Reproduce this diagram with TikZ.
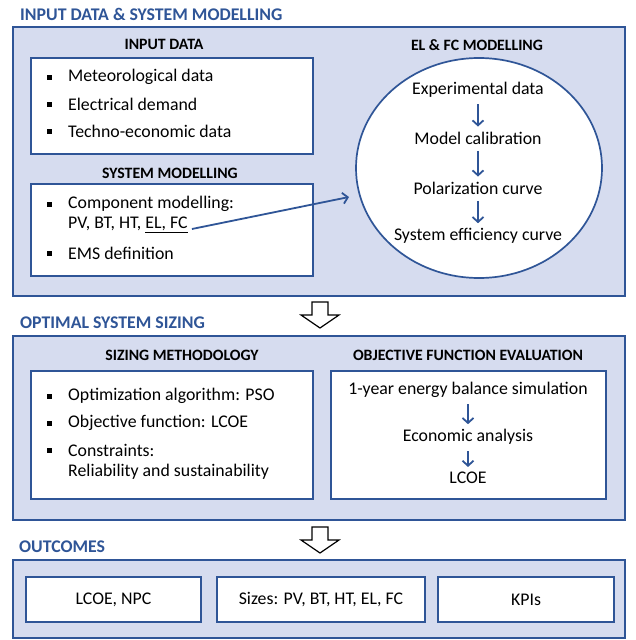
\documentclass[tikz,border=0pt]{standalone}
\usepackage{fontspec}
\setmainfont{Carlito}
\usetikzlibrary{arrows.meta,shapes.geometric}
\definecolor{bblue}{HTML}{2F5597}
\definecolor{bfill}{HTML}{D6DCEF}
\begin{document}
\begin{tikzpicture}[x=1pt,y=-1pt,
  outer/.style={draw=bblue, line width=1.7pt, fill=bfill, anchor=north west, inner sep=0pt},
  inner/.style={draw=bblue, line width=1.7pt, fill=white, anchor=north west, inner sep=0pt},
  sectitle/.style={text=bblue, font=\fontsize{17.8}{20}\selectfont\bfseries, anchor=west, inner sep=0pt},
  head/.style={font=\fontsize{15.8}{18}\selectfont\bfseries, inner sep=0pt},
  txt/.style={font=\fontsize{17.8}{20}\selectfont, inner sep=2pt},
  btxt/.style={txt, anchor=west, inner sep=0pt},
  flow/.style={draw=bblue, line width=1.8pt, -{Straight Barb[length=5pt,width=11pt]}},
  vflow/.style={flow, shorten <=4.5pt, shorten >=3pt},
  hollow/.style={draw=black, line width=1.2pt, fill=white, line join=miter}
]
\useasboundingbox (0,0) rectangle (635,640);
\def\bul#1{\fill (46.5,#1-2.5) rectangle (51.5,#1+2.5);}

% ---------- Section 1 ----------
\node[sectitle] (t1) at (20,14) {INPUT DATA \& SYSTEM MODELLING};
\node[outer, minimum width=612pt, minimum height=269pt] (box1) at (12,26) {};
\node[head] (h11) at (164,44) {INPUT DATA};
\node[inner, minimum width=282pt, minimum height=96pt] (inbox) at (30,57) {};
\bul{77}\node[btxt] (i1) at (68,77) {Meteorological data};
\bul{104}\node[btxt] (i2) at (68,104) {Electrical demand};
\bul{131}\node[btxt] (i3) at (68,131) {Techno-economic data};
\node[head] (h12) at (170,173) {SYSTEM MODELLING};
\node[inner, minimum width=282pt, minimum height=92pt] (sysbox) at (30,183) {};
\bul{204}\node[btxt] (s1) at (68,204) {Component modelling:};
\node[btxt] (s2) at (68,225) {PV, BT, HT, \underline{EL, FC}};
\bul{253}\node[btxt] (s3) at (68,253) {EMS definition};
\node[head] (h13) at (477,45) {EL \& FC MODELLING};
\node[draw=bblue, line width=1.7pt, fill=white, ellipse, minimum width=246pt, minimum height=220pt, inner sep=0pt] (ell) at (479,168) {};
\coordinate (ellin) at (349,197);
\draw[flow] ([shift={(4,4)}]s2.east) -- (ellin);
\node[txt] (e1) at (478,90) {Experimental data};
\node[txt] (e2) at (478,138) {Model calibration};
\node[txt] (e3) at (478,188) {Polarization curve};
\node[txt] (e4) at (478,236) {System efficiency curve};
\draw[vflow] (e1.south) -- (e2.north);
\draw[vflow] (e2.south) -- (e3.north);
\draw[vflow] (e3.south) -- (e4.north);

% ---------- hollow arrow 1 ----------
\draw[hollow] (312,302) -- (328,302) -- (328,315) -- (339,315) -- (320,328) -- (301,315) -- (312,315) -- cycle;

% ---------- Section 2 ----------
\node[sectitle] (t2) at (20,323) {OPTIMAL SYSTEM SIZING};
\node[outer, minimum width=612pt, minimum height=184pt] (box2) at (12,335) {};
\node[head] (h21) at (182,355) {SIZING METHODOLOGY};
\node[head] (h22) at (468,355) {OBJECTIVE FUNCTION EVALUATION};
\node[inner, minimum width=282pt, minimum height=128pt] (sizbox) at (30,370) {};
\node[inner, minimum width=275pt, minimum height=128pt] (objbox) at (330,370) {};
\bul{396}\node[btxt] (z1) at (68,396) {Optimization algorithm: PSO};
\bul{423}\node[btxt] (z2) at (68,423) {Objective function: LCOE};
\bul{450}\node[btxt] (z3) at (68,450) {Constraints:};
\node[btxt] (z4) at (68,472) {Reliability and sustainability};
\node[txt] (o1) at (468,390) {1-year energy balance simulation};
\node[txt] (o2) at (468,437) {Economic analysis};
\node[txt] (o3) at (468,478) {LCOE};
\draw[vflow] (o1.south) -- (o2.north);
\draw[vflow] (o2.south) -- (o3.north);

% ---------- hollow arrow 2 ----------
\draw[hollow] (312,527) -- (328,527) -- (328,540) -- (339,540) -- (320,553) -- (301,540) -- (312,540) -- cycle;

% ---------- Section 3 ----------
\node[sectitle] (t3) at (19,547) {OUTCOMES};
\node[outer, minimum width=612pt, minimum height=78pt] (box3) at (12,559) {};
\node[inner, minimum width=175pt, minimum height=45pt, font=\fontsize{17.8}{20}\selectfont, anchor=center] (r1) at (113.5,599.5) {LCOE, NPC};
\node[inner, minimum width=208pt, minimum height=45pt, font=\fontsize{17.8}{20}\selectfont, anchor=center] (r2) at (321,599.5) {Sizes: PV, BT, HT, EL, FC};
\node[inner, minimum width=176pt, minimum height=45pt, font=\fontsize{17.8}{20}\selectfont, anchor=center] (r3) at (526,599.5) {KPIs};
\end{tikzpicture}
\end{document}
